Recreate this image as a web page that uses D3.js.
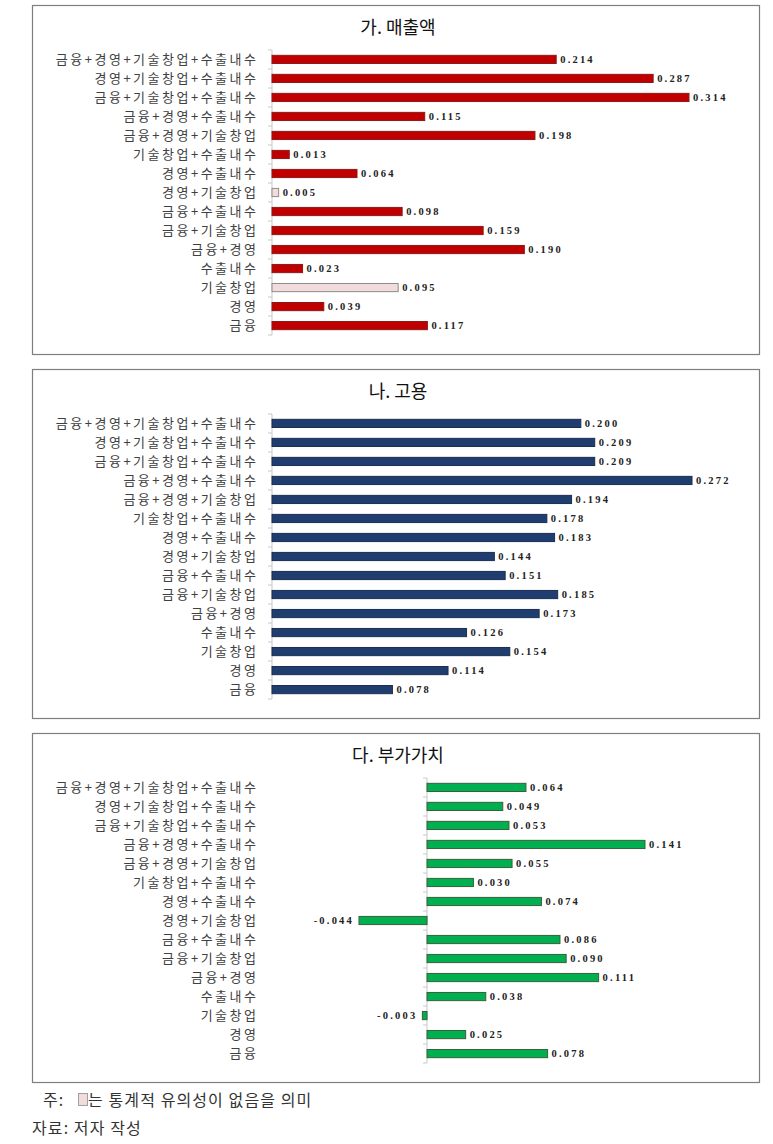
<!DOCTYPE html>
<meta charset="utf-8">
<style>
  body {margin: 0; background: #fff; font-family: "Noto Sans CJK KR", sans-serif;}
</style>
<svg width="773" height="1144"></svg>
<script src="https://d3js.org/d3.v7.min.js"></script>
<script>
  /**
   * ----------------------------------------------------------------------------------------------
   * data
   * ----------------------------------------------------------------------------------------------
   */
  const categories = [
    "금융+경영+기술창업+수출내수", "경영+기술창업+수출내수", "금융+기술창업+수출내수",
    "금융+경영+수출내수", "금융+경영+기술창업", "기술창업+수출내수", "경영+수출내수",
    "경영+기술창업", "금융+수출내수", "금융+기술창업", "금융+경영", "수출내수",
    "기술창업", "경영", "금융"
  ];
  const sales = [0.214, 0.287, 0.314, 0.115, 0.198, 0.013, 0.064, 0.005, 0.098, 0.159, 0.190, 0.023, 0.095, 0.039, 0.117];
  // not significant (drawn pale) for sales
  const salesInsig = ["경영+기술창업", "기술창업"];
  const employment = [0.200, 0.209, 0.209, 0.272, 0.194, 0.178, 0.183, 0.144, 0.151, 0.185, 0.173, 0.126, 0.154, 0.114, 0.078];
  const valueAdded = [0.064, 0.049, 0.053, 0.141, 0.055, 0.030, 0.074, -0.044, 0.086, 0.090, 0.111, 0.038, -0.003, 0.025, 0.078];
  const titles = ["가. 매출액", "나. 고용", "다. 부가가치"];

  const svg = d3.select("svg");

  /**
   * ----------------------------------------------------------------------------------------------
   * one panel
   * ----------------------------------------------------------------------------------------------
   */
  function drawPanel(p) {
    const g = svg.append("g");
    g.append("rect")
      .attr("x", 32.5).attr("y", p.top + 0.5)
      .attr("width", 727).attr("height", 349)
      .attr("fill", "none").attr("stroke", "#7f7f7f").attr("stroke-width", 1.2);

    g.append("text")
      .attr("x", 398).attr("y", p.top + 29)
      .attr("text-anchor", "middle")
      .style("font-size", "18px").style("font-weight", 400).style("fill", "#111")
      .text(p.title);

    const y = d3.scaleBand()
      .domain(categories)
      .range([p.top + 45, p.top + 45 + 19 * categories.length])
      .paddingInner(0.57).paddingOuter(0.28);

    const x = d3.scaleLinear().domain(p.domain).range(p.range);

    // axis line with small ticks at band boundaries
    const x0 = x(0);
    g.append("line")
      .attr("x1", x0).attr("x2", x0)
      .attr("y1", p.top + 45).attr("y2", p.top + 45 + 19 * categories.length)
      .attr("stroke", "#c8c8c8");
    d3.range(categories.length + 1).forEach(i => {
      const ty = p.top + 45 + 19 * i;
      g.append("line")
        .attr("x1", x0 - 4).attr("x2", x0)
        .attr("y1", ty).attr("y2", ty)
        .attr("stroke", "#c8c8c8");
    });

    g.selectAll(".cat")
      .data(categories).enter().append("text")
        .attr("x", 258.5)
        .attr("y", d => y(d) + y.bandwidth() / 2)
        .attr("dy", "0.36em")
        .attr("text-anchor", "end")
        .style("font-size", "13px").style("letter-spacing", "2.5px").style("fill", "#404040")
        .text(d => d);

    g.selectAll(".bar")
      .data(p.values).enter().append("rect")
        .attr("x", d => x(Math.min(0, d)))
        .attr("y", (d, i) => y(categories[i]))
        .attr("width", d => Math.abs(x(d) - x0))
        .attr("height", y.bandwidth())
        .attr("fill", (d, i) => p.pale.includes(categories[i]) ? "#f2dcdb" : p.color)
        .attr("stroke", (d, i) => p.pale.includes(categories[i]) ? "#8c8c8c" : p.edge)
        .attr("stroke-width", 1);

    g.selectAll(".val")
      .data(p.values).enter().append("text")
        .attr("x", d => d < 0 ? x(d) - 5 : x(d) + 4)
        .attr("y", (d, i) => y(categories[i]) + y.bandwidth() / 2)
        .attr("dy", "0.35em")
        .attr("text-anchor", d => d < 0 ? "end" : "start")
        .style("font-family", "'Liberation Serif', serif")
        .style("font-weight", "bold").style("font-size", "10.5px")
        .style("letter-spacing", "2.2px").style("fill", "#222")
        .text(d => d.toFixed(3));
  }

  drawPanel({top: 5, title: titles[0], values: sales, pale: salesInsig,
    domain: [0, 0.314], range: [272, 689], color: "#c00000", edge: "#8b1a1a"});
  drawPanel({top: 369, title: titles[1], values: employment, pale: [],
    domain: [0, 0.272], range: [272, 692], color: "#1f3d6e", edge: "#1a2f50"});
  drawPanel({top: 733, title: titles[2], values: valueAdded, pale: [],
    domain: [-0.044, 0.141], range: [359, 645], color: "#00b050", edge: "#3a5f3a"});

  /**
   * ----------------------------------------------------------------------------------------------
   * notes
   * ----------------------------------------------------------------------------------------------
   */
  const note = s => s.style("font-size", "16px").style("letter-spacing", "1.1px").style("fill", "#333");
  svg.append("text").attr("x", 43).attr("y", 1106).call(note).text("주:");
  svg.append("rect").attr("x", 78.5).attr("y", 1093.5).attr("width", 9).attr("height", 12)
    .attr("fill", "#f2dcdb").attr("stroke", "#a0a0a0");
  svg.append("text").attr("x", 88).attr("y", 1106).call(note).text("는 통계적 유의성이 없음을 의미");
  svg.append("text").attr("x", 32).attr("y", 1134).call(note).text("자료: 저자 작성");
</script>
